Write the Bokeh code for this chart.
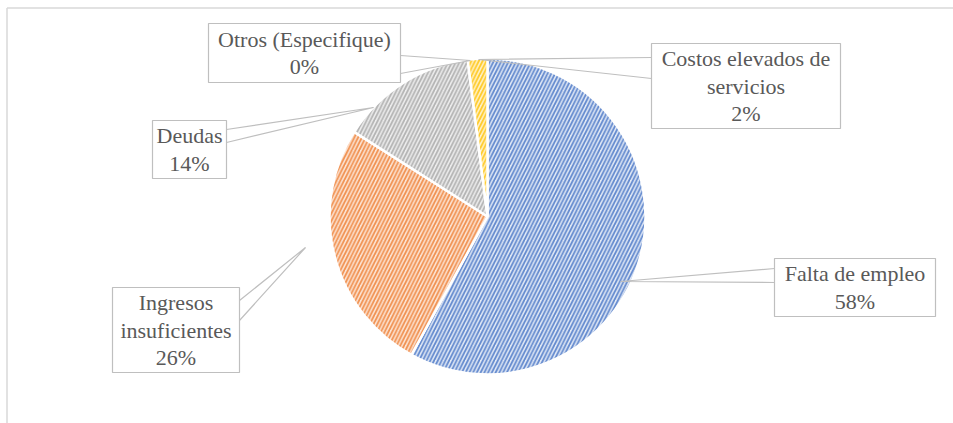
import math
from bokeh.plotting import figure
from bokeh.models import Range1d, ColumnDataSource
from bokeh.core.properties import value
from bokeh.embed import file_html
from bokeh.resources import INLINE

# ---- data ----
categories = ["Falta de empleo", "Ingresos insuficientes", "Deudas",
              "Otros (Especifique)", "Costos elevados de servicios"]
percents = [58, 26, 14, 0, 2]
label_texts = ["Falta de empleo\n58%", "Ingresos\ninsuficientes\n26%", "Deudas\n14%",
               "Otros (Especifique)\n0%", "Costos elevados de\nservicios\n2%"]
main_colors = ["#4472C4", "#ED7D31", "#A5A5A5", "#5B9BD5", "#FFC000"]
tint_colors = ["#E3EAF6", "#FCE5D6", "#EEEEEE", "#DEEBF7", "#FFF2CC"]

# ---- layout (screen pixels) ----
W, H = 953, 423
CX, CY, R = 487, 216, 158
# label boxes: left, top, right, bottom
boxes = [(774, 258, 935, 316), (112, 287, 239, 372), (152, 120, 226, 178),
         (208, 23, 400, 82), (651, 43, 840, 128)]
# callout pointers: apex, base1, base2
pointers = [((620, 281), (774, 268), (774, 282)),
            ((305, 247), (239, 300), (239, 320)),
            ((373, 107), (226, 129), (226, 142)),
            ((470, 60), (400, 55), (400, 73)),
            ((478, 59), (651, 57), (651, 78))]

p = figure(width=W, height=H, output_backend="svg", toolbar_location=None,
           x_range=Range1d(0, W), y_range=Range1d(-H, 0),
           min_border=0, outline_line_color=None)
p.axis.visible = False
p.grid.visible = False
p.background_fill_color = "white"
p.border_fill_color = "white"

# chart border (top & left visible)
p.line(x=[6.5, W], y=[-7.5, -7.5], line_color="#D9D9D9", line_width=1.5)
p.line(x=[6.5, 6.5], y=[-7.5, -H], line_color="#D9D9D9", line_width=1.5)

# pie
total = sum(percents)
starts, ends, fc, hc = [], [], [], []
cum = 0
for v, m, t in zip(percents, main_colors, tint_colors):
    a0 = math.pi / 2 - 2 * math.pi * cum / total
    cum += v
    a1 = math.pi / 2 - 2 * math.pi * cum / total
    if v > 0:
        starts.append(a0); ends.append(a1); fc.append(t); hc.append(m)
src = ColumnDataSource(dict(start=starts, end=ends, fc=fc, hc=hc))
p.wedge(x=CX, y=-CY, radius=R, start_angle="start", end_angle="end",
        direction="clock", source=src, fill_color="fc",
        hatch_pattern="/", hatch_color="hc", hatch_scale=7.5, hatch_weight=1.8,
        hatch_alpha=0.8, line_color="white", line_width=2.5)

# callout pointers
xs, ys = [], []
for apex, b1, b2 in pointers:
    xs.append([b1[0], apex[0], b2[0]])
    ys.append([-b1[1], -apex[1], -b2[1]])
p.multi_line(xs=xs, ys=ys, line_color="#BFBFBF", line_width=1.2)

# boxes
p.quad(left=[b[0] for b in boxes], right=[b[2] for b in boxes],
       top=[-b[1] for b in boxes], bottom=[-b[3] for b in boxes],
       fill_color="white", line_color="#BFBFBF", line_width=1.2)

# label texts
p.text(x=[(b[0] + b[2]) / 2 for b in boxes], y=[-(b[1] + b[3]) / 2 for b in boxes],
       text=label_texts, text_align="center", text_baseline="middle",
       text_font=value("'Liberation Serif', 'Times New Roman', serif"),
       text_font_size="22px", text_color="#595959", text_line_height=1.1)

open("out.html", "w").write(file_html(p, INLINE))
